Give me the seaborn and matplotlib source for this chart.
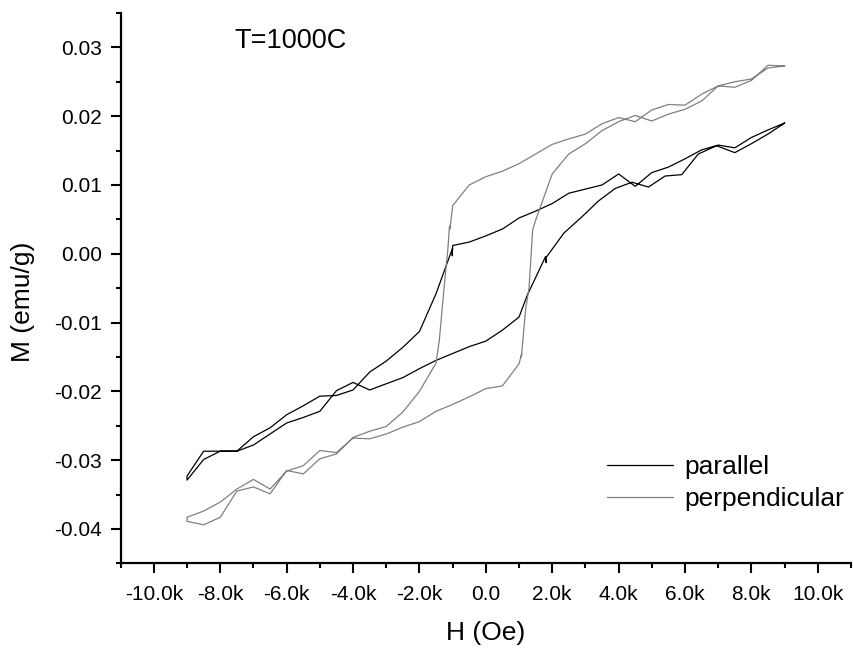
import numpy as np
import pandas as pd
import matplotlib
matplotlib.use("Agg")
import matplotlib.pyplot as plt
import seaborn as sns
from matplotlib.ticker import MultipleLocator, FuncFormatter

# ---- data (H in Oe, M in emu/g) ----
series_names = ["parallel", "perpendicular"]
series_colors = ["#000000", "#808080"]

# parallel: descending branch (+9k -> -9k)
par_desc_H = [9000, 8500, 8000, 7500, 7000, 6500, 6000, 5500, 5000, 4500, 4000, 3500,
              3000, 2500, 2000, 1500, 1000, 500, 0, -500, -1000, -1012, -1004, -1500,
              -2000, -2500, -3000, -3500, -4000, -4500, -5000, -5500, -6000, -6500,
              -7000, -7500, -8000, -8500, -9000]
par_desc_M = [0.0190, 0.0180, 0.0169, 0.0154, 0.0158, 0.0151, 0.0138, 0.0126, 0.0118, 0.0098,
              0.0116, 0.0100, 0.0094, 0.0088, 0.0073, 0.0062, 0.0052, 0.0036, 0.0026, 0.0017,
              0.0012, -0.0003, 0.0008, -0.0058, -0.0113, -0.0136, -0.0156, -0.0172, -0.0198,
              -0.0206, -0.0207, -0.0221, -0.0234, -0.0253, -0.0266, -0.0287, -0.0287, -0.0287,
              -0.0323]
# parallel: ascending branch (-9k -> +9k)
par_asc_H = [-9000, -8500, -8000, -7500, -7000, -6500, -6000, -5500, -5000, -4500, -4000,
             -3500, -3000, -2500, -2000, -1500, -1000, -500, 0, 500, 1000, 1250, 1800, 1815,
             1808, 2350, 2900, 3400, 3900, 4400, 4900, 5400, 5900, 6400, 6950, 7500, 8000,
             8500, 9000]
par_asc_M = [-0.0329, -0.0299, -0.0287, -0.0287, -0.0278, -0.0262, -0.0246, -0.0238, -0.0229,
             -0.0199, -0.0187, -0.0198, -0.0189, -0.0180, -0.0167, -0.0155, -0.0145, -0.0135,
             -0.0127, -0.0111, -0.0092, -0.0060, -0.0004, -0.0013, -0.0006, 0.0030, 0.0054,
             0.0077, 0.0095, 0.0104, 0.0097, 0.0113, 0.0115, 0.0145, 0.0157, 0.0147, 0.0160,
             0.0174, 0.0190]

# perpendicular: descending branch
per_desc_H = [9000, 8500, 8000, 7500, 7000, 6500, 6000, 5500, 5000, 4500, 4000, 3500, 3000,
              2500, 2000, 1500, 1000, 500, 0, -500, -1000, -1080, -1095, -1150, -1250, -1400,
              -1500, -2000, -2500, -3000, -3500, -4000, -4500, -5000, -5500, -6000, -6500,
              -7000, -7500, -8000, -8500, -9000]
per_desc_M = [0.0273, 0.0274, 0.0252, 0.0242, 0.0244, 0.0232, 0.0216, 0.0217, 0.0209, 0.0192,
              0.0198, 0.0189, 0.0174, 0.0167, 0.0159, 0.0145, 0.0131, 0.0120, 0.0112, 0.0100,
              0.0070, 0.0036, 0.0040, 0.0003, -0.0045, -0.0125, -0.0159, -0.0200, -0.0230,
              -0.0251, -0.0258, -0.0267, -0.0291, -0.0298, -0.0320, -0.0315, -0.0349, -0.0339,
              -0.0345, -0.0383, -0.0394, -0.0389]
# perpendicular: ascending branch
per_asc_H = [-9000, -8500, -8000, -7500, -7000, -6500, -6000, -5500, -5000, -4500, -4000,
             -3500, -3000, -2500, -2000, -1500, -1000, -500, 0, 500, 1000, 1080, 1070, 1200,
             1300, 1410, 1480, 2000, 2500, 3000, 3500, 4000, 4500, 5000, 5500, 6000, 6500,
             7000, 7500, 8000, 8500, 9000]
per_asc_M = [-0.0383, -0.0374, -0.0361, -0.0342, -0.0328, -0.0342, -0.0316, -0.0308, -0.0286,
             -0.0289, -0.0268, -0.0269, -0.0262, -0.0252, -0.0244, -0.0229, -0.0219, -0.0208,
             -0.0196, -0.0192, -0.0160, -0.0145, -0.0150, -0.0080, -0.0050, 0.0034, 0.0046,
             0.0116, 0.0145, 0.0160, 0.0179, 0.0192, 0.0201, 0.0193, 0.0203, 0.0210, 0.0222,
             0.0244, 0.0250, 0.0254, 0.0270, 0.0273]

# ---- assemble ----
frames = []
for name, H, M in [("parallel", par_desc_H + par_asc_H, par_desc_M + par_asc_M),
                   ("perpendicular", per_desc_H + per_asc_H, per_desc_M + per_asc_M)]:
    frames.append(pd.DataFrame({"H": H, "M": M, "sample": name}))
df = pd.concat(frames, ignore_index=True)

sns.set_theme(style="white")
plt.rcParams["font.family"] = ["Liberation Sans", "DejaVu Sans"]
plt.rcParams["text.color"] = "black"

fig = plt.figure(figsize=(8.54, 6.49), dpi=100)
ax = fig.add_axes([0.1413, 0.132, 0.8552, 0.848])

sns.lineplot(data=df, x="H", y="M", hue="sample", hue_order=series_names,
             palette=dict(zip(series_names, series_colors)), sort=False,
             estimator=None, linewidth=0.9, ax=ax)

ax.set_xlim(-11000, 11000)
ax.set_ylim(-0.045, 0.035)
for s in ["top", "right"]:
    ax.spines[s].set_visible(False)
for s in ["left", "bottom"]:
    ax.spines[s].set_linewidth(1.6)
    ax.spines[s].set_color("black")

ax.xaxis.set_major_locator(MultipleLocator(2000))
ax.xaxis.set_minor_locator(MultipleLocator(1000))
ax.yaxis.set_major_locator(MultipleLocator(0.01))
ax.yaxis.set_minor_locator(MultipleLocator(0.005))


def xfmt(v, pos):
    if abs(v) < 1e-9:
        return "0.0"
    return f"{v / 1000:.1f}k"


def yfmt(v, pos):
    if abs(v) < 1e-9:
        return "0.00"
    return f"{v:.2f}"


ax.xaxis.set_major_formatter(FuncFormatter(xfmt))
ax.yaxis.set_major_formatter(FuncFormatter(yfmt))
ax.tick_params(which="major", direction="out", length=7.5, width=1.5, labelsize=15,
               pad=6, color="black", labelcolor="black", bottom=True, left=True)
ax.tick_params(axis="x", which="major", pad=8)
ax.tick_params(which="minor", direction="out", length=3.8, width=1.5, color="black",
               bottom=True, left=True)

ax.set_xlabel("H (Oe)", fontsize=19, color="black")
ax.xaxis.set_label_coords(0.5, -0.105)
ax.set_ylabel("M (emu/g)", fontsize=19, color="black")
ax.yaxis.set_label_coords(-0.117, 0.475)

ax.text(-7570, 0.0299, "T=1000C", fontsize=19.5, ha="left", va="baseline", color="black")

handles, labels = ax.get_legend_handles_labels()
ax.legend(handles, labels, loc="upper left", bbox_to_anchor=(0.666, 0.197),
          frameon=False, fontsize=19, handlelength=2.5, handletextpad=0.42,
          labelspacing=0.32, borderpad=0, borderaxespad=0, labelcolor="black")

fig.savefig("out.png", dpi=100)
